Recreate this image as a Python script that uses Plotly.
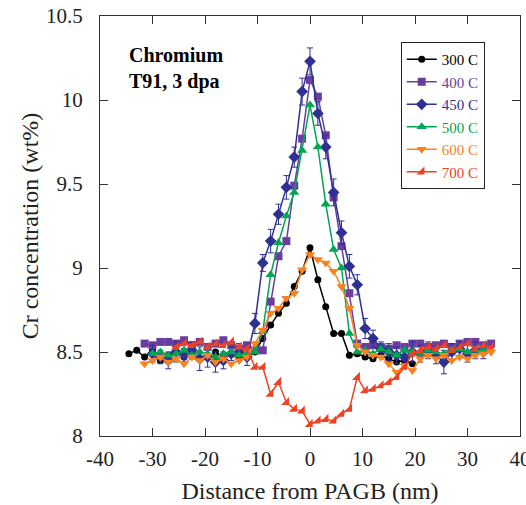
import plotly.graph_objects as go

# ---------------- data ----------------
x_300 = [-34.5, -33, -31.5, -30, -28.5, -27, -25.5, -24, -22.5, -21, -19.5, -18, -16.5, -15, -13.5, -12,
         -10.5, -9, -7.5, -6, -4.5, -3, -1.5, 0, 1.5, 3, 4.5, 6, 7.5, 9, 10.5, 12, 13.5, 15, 16.5, 18, 19.5]
y_300 = [8.49, 8.51, 8.47, 8.51, 8.45, 8.48, 8.50, 8.47, 8.49, 8.46, 8.48, 8.50, 8.47, 8.49, 8.46, 8.47,
         8.50, 8.58, 8.66, 8.73, 8.79, 8.89, 8.98, 9.12, 8.93, 8.77, 8.61, 8.61, 8.48, 8.49, 8.47, 8.46,
         8.48, 8.46, 8.44, 8.45, 8.43]

x_400 = [-31.5, -30, -28.5, -27, -25.5, -24, -22.5, -21, -19.5, -18, -16.5, -15, -13.5, -12,
         -10.5, -9, -7.5, -6, -4.5, -3, -1.5, 0, 1.5, 3, 4.5, 6, 7.5, 9, 10.5,
         12, 13.5, 15, 16.5, 18, 19.5, 21, 22.5, 24, 25.5, 27, 28.5, 30, 31.5, 33, 34.5]
y_400 = [8.55, 8.54, 8.56, 8.56, 8.55, 8.57, 8.54, 8.56, 8.53, 8.55, 8.57, 8.54, 8.52, 8.54,
         8.51, 8.51, 8.80, 9.07, 9.16, 9.49, 9.77, 10.12, 10.02, 9.79, 9.42, 9.13, 8.85, 8.55, 8.53,
         8.54, 8.53, 8.52, 8.54, 8.53, 8.55, 8.55, 8.53, 8.54, 8.55, 8.53, 8.55, 8.56, 8.56, 8.54, 8.55]

x_450 = [-30, -28.5, -27, -25.5, -24, -22.5, -21, -19.5, -18, -16.5, -15, -13.5, -12,
         -10.5, -9, -7.5, -6, -4.5, -3, -1.5, 0, 1.5, 3, 4.5, 6, 7.5, 9, 10.5,
         12, 13.5, 15, 16.5, 18, 19.5, 21, 22.5, 24, 25.5, 27, 28.5, 30, 31.5, 33]
y_450 = [8.49, 8.47, 8.45, 8.50, 8.48, 8.51, 8.46, 8.47, 8.44, 8.45, 8.49, 8.50, 8.47,
         8.67, 9.03, 9.16, 9.32, 9.48, 9.66, 10.05, 10.23, 9.92, 9.72, 9.45, 9.21, 9.01, 8.90, 8.64,
         8.58, 8.52, 8.50, 8.48, 8.47, 8.50, 8.49, 8.51, 8.48, 8.44, 8.50, 8.52, 8.49, 8.51, 8.50]
e_450 = [0.05, 0.04, 0.05, 0.06, 0.04, 0.05, 0.07, 0.06, 0.06, 0.05, 0.04, 0.05, 0.05,
         0.06, 0.05, 0.07, 0.06, 0.07, 0.06, 0.08, 0.08, 0.07, 0.07, 0.08, 0.07, 0.07, 0.06, 0.06,
         0.05, 0.04, 0.05, 0.05, 0.04, 0.06, 0.05, 0.05, 0.05, 0.07, 0.05, 0.04, 0.05, 0.05, 0.04]

x_500 = x_450
y_500 = [8.49, 8.50, 8.48, 8.49, 8.51, 8.48, 8.50, 8.49, 8.47, 8.49, 8.50, 8.48, 8.49,
         8.50, 8.62, 8.96, 9.15, 9.31, 9.45, 9.70, 9.97, 9.72, 9.38, 9.11, 9.00, 8.61, 8.50, 8.51,
         8.49, 8.52, 8.50, 8.48, 8.51, 8.50, 8.49, 8.51, 8.50, 8.49, 8.51, 8.52, 8.50, 8.51, 8.51]

x_600 = x_400
y_600 = [8.43, 8.45, 8.47, 8.44, 8.46, 8.43, 8.47, 8.45, 8.48, 8.44, 8.46, 8.43, 8.45, 8.47,
         8.55, 8.63, 8.73, 8.76, 8.82, 8.85, 8.99, 9.08, 9.05, 9.03, 8.98, 8.89, 8.76, 8.54, 8.50,
         8.48, 8.47, 8.43, 8.38, 8.42, 8.39, 8.46, 8.48, 8.46, 8.48, 8.45, 8.47, 8.46, 8.48, 8.49, 8.50]

x_700 = [-25.5, -24, -22.5, -21, -19.5, -18, -16.5, -15, -13.5, -12,
         -10.5, -9, -7.5, -6, -4.5, -3, -1.5, 0, 1.5, 3, 4.5, 6, 7.5, 9, 10.5, 12, 13.5, 15, 16.5, 18, 19.5,
         21, 22.5, 24, 25.5, 27, 28.5, 30, 31.5, 33, 34.5]
y_700 = [8.53, 8.55, 8.54, 8.56, 8.53, 8.55, 8.54, 8.56, 8.53, 8.52,
         8.41, 8.41, 8.25, 8.32, 8.20, 8.16, 8.15, 8.07, 8.09, 8.10, 8.09, 8.13, 8.16, 8.35, 8.27, 8.28,
         8.30, 8.32, 8.35, 8.41, 8.49,
         8.51, 8.53, 8.52, 8.54, 8.51, 8.53, 8.55, 8.52, 8.54, 8.53]

x_ticks = [-40, -30, -20, -10, 0, 10, 20, 30, 40]
x_tick_text = ["-40", "-30", "-20", "-10", "0", "10", "20", "30", "40"]
y_ticks = [8, 8.5, 9, 9.5, 10, 10.5]
y_tick_text = ["8", "8.5", "9", "9.5", "10", "10.5"]

series = [
    ("300 C", x_300, y_300, None, "#000000", "circle", 7),
    ("400 C", x_400, y_400, None, "#6a3d9f", "square", 8),
    ("450 C", x_450, y_450, e_450, "#2e3192", "diamond", 9),
    ("500 C", x_500, y_500, None, "#00a651", "triangle-up", 9),
    ("600 C", x_600, y_600, None, "#f7821f", "triangle-down", 9),
    ("700 C", x_700, y_700, None, "#ef4123", "triangle-se", 9),
]

SERIF = "Liberation Serif, Times New Roman, serif"

fig = go.Figure()
for name, xs, ys, err, color, sym, size in series:
    kw = {}
    if err is not None:
        kw["error_y"] = dict(type="data", array=err, visible=True, color=color,
                             thickness=1, width=3)
    fig.add_trace(go.Scatter(
        x=xs, y=ys, mode="lines+markers",
        name=f'<span style="color:{color}">{name}</span>',
        line=dict(color=color, width=1.5),
        marker=dict(symbol=sym, size=size, color=color, line=dict(width=0)),
        **kw))

fig.add_annotation(x=-34.8, y=10.19, xref="x", yref="y", xanchor="left", yanchor="middle",
                   text="<b>Chromium</b><br><b>T91, 3 dpa</b>", showarrow=False, align="left",
                   font=dict(family=SERIF, size=20, color="black"))

axis_common = dict(showline=True, linecolor="#333333", linewidth=1, mirror="ticks",
                   ticks="inside", ticklen=8, tickcolor="#333333", showgrid=False, zeroline=False,
                   automargin=False,
                   tickfont=dict(family=SERIF, size=21, color="#222222"))

# figure is slightly wider than the 526 px window so the "40" label is clipped like the reference
fig.update_layout(
    width=540, height=505,
    margin=dict(l=100, r=19.5, t=16, b=69),
    paper_bgcolor="white", plot_bgcolor="white",
    showlegend=True,
    legend=dict(x=0.716, y=0.938, xanchor="left", yanchor="top",
                bgcolor="white", bordercolor="#222222", borderwidth=1,
                font=dict(family=SERIF, size=15, color="black"),
                tracegroupgap=0, itemwidth=30),
    xaxis=dict(range=[-40, 40], tickvals=x_ticks, ticktext=x_tick_text, ticklabelstandoff=4,
               title=dict(text="Distance from PAGB (nm)", font=dict(family=SERIF, size=24, color="#222222"),
                          standoff=11),
               **axis_common),
    yaxis=dict(range=[8, 10.5], tickvals=y_ticks, ticktext=y_tick_text, ticklabelstandoff=12,
               title=dict(text="Cr concentration (wt%)", font=dict(family=SERIF, size=24, color="#222222"),
                          standoff=0),
               **axis_common),
)

fig.write_html("out.html", config={"displayModeBar": False},
               post_script="document.body.style.margin='0';document.body.style.overflow='hidden';")
